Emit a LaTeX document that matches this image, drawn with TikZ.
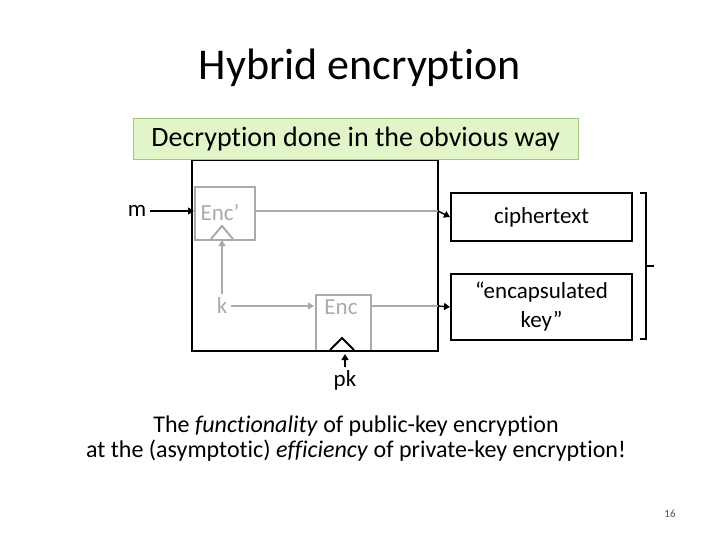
\documentclass[tikz,border=0pt]{standalone}
\usepackage{fontspec}
\setmainfont{Carlito}[Ligatures={NoCommon,NoContextual}]
\usetikzlibrary{arrows.meta}
\definecolor{gr}{RGB}{170,170,170}
\definecolor{lgreen}{RGB}{225,245,200}
\definecolor{dgreen}{RGB}{160,200,130}
\begin{document}
\begin{tikzpicture}[x=1pt,y=-1pt,
  blk/.style={draw=black,line width=2pt},
  gbox/.style={draw=gr,line width=2pt},
  arr/.style={-{Triangle[length=6pt,width=7pt]},line width=1.4pt},
  lab/.style={font=\fontsize{23}{26}\selectfont}]
\useasboundingbox (0,0) rectangle (720,540);
\node[font=\fontsize{44}{50}\selectfont] (title) at (360,68) {Hybrid encryption};
% big box
\draw[blk] (192,160) rectangle (438,351);
\node[gbox,minimum width=60pt,minimum height=53pt,anchor=north west] (encp) at (194,186) {};
\node[gr,lab,anchor=west] at (197,212) {Enc’};
\node[gbox,minimum width=55pt,minimum height=56pt,anchor=north west] (enc) at (315,294) {};
\node[gr,lab] at (341,307) {Enc};
\draw[blk] (192,351) -- (438,351);
\node[blk,minimum width=181pt,minimum height=48pt,anchor=north west,lab] (ct) at (450,192) {ciphertext};
\node[blk,minimum width=181pt,minimum height=66pt,anchor=north west,lab,align=center,font=\fontsize{23}{29}\selectfont] (ek) at (450,273) {“encapsulated\\key”};
\node[lab] (m) at (137,211) {m};
\node[lab,gr] (k) at (222,306) {k};
\node[lab] (pk) at (345,380) {pk};
\coordinate (ea) at (438,211);
\coordinate (eb) at (438,306);
% arrows
\draw[arr] (m) -- (194,211);
\draw[gr,line width=1.4pt] (256,211) -- (ea);
\draw[arr] (ea) -- (ct.west);
\draw[gr,line width=1.4pt,-{Triangle[length=6pt,width=7pt]}] (k) -- (222,240);
\draw[gr,line width=1.4pt,-{Triangle[length=6pt,width=7pt]}] (k) -- (314,306);
\draw[gr,line width=1.4pt] (372,306) -- (eb);
\draw[arr] (eb) -- (ek.west);
\draw[arr] (pk) -- (345,354);
% carets
\draw[gr,line width=2pt] (211,239) -- (222,226) -- (233,239);
\draw[black,line width=2pt] (330,350) -- (342,338) -- (354,350);
% brace
\draw[black,line width=2pt] (640,193) -- (646,193) -- (646,339) -- (640,339);
\draw[black,line width=2pt] (646,266) -- (654,266);
% green label
\node[draw=dgreen,fill=lgreen,minimum width=445pt,minimum height=41pt,anchor=north west,font=\fontsize{28}{32}\selectfont] (dec) at (133,118) {Decryption done in the obvious way};
\node[align=center,font=\fontsize{24}{25}\selectfont] (txt) at (356,439) {The \textit{functionality} of public-key encryption\\at the (asymptotic) \textit{efficiency} of private-key encryption!};
\node[font=\fontsize{11}{13}\selectfont,gr!50!black] (num) at (670,514) {16};
\end{tikzpicture}
\end{document}
